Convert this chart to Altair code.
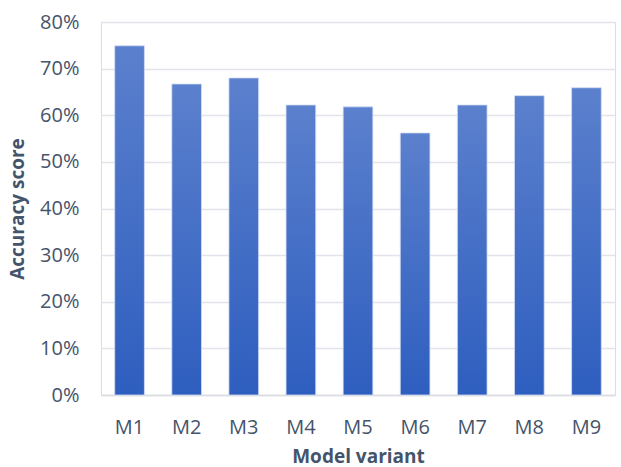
import altair as alt
import pandas as pd

models = ["M1", "M2", "M3", "M4", "M5", "M6", "M7", "M8", "M9"]
accuracy = [0.749, 0.667, 0.680, 0.622, 0.618, 0.562, 0.622, 0.642, 0.659]

df = pd.DataFrame({"model": models, "accuracy": accuracy})

FONT = "Open Sans"
TXT = "#44546A"

chart = (
    alt.Chart(df)
    .mark_bar(
        fill=alt.Gradient(
            gradient="linear",
            stops=[
                alt.GradientStop(color="#5B80CD", offset=0),
                alt.GradientStop(color="#2E5EBF", offset=1),
            ],
            x1=0, x2=0, y1=0, y2=1,
        ),
        stroke="#D3DDF2",
        strokeWidth=0.8,
    )
    .encode(
        x=alt.X(
            "model:N",
            sort=models,
            title="Model variant",
            scale=alt.Scale(paddingInner=0.48, paddingOuter=0.24),
            axis=alt.Axis(
                labelAngle=0,
                labelFontSize=20,
                labelColor=TXT,
                labelFont=FONT,
                labelPadding=22,
                titleFont=FONT,
                titleFontSize=19,
                titleFontWeight="bold",
                titleColor=TXT,
                titlePadding=10,
                ticks=False,
                domainColor="#D9DCE3",
                domainWidth=1.5,
            ),
        ),
        y=alt.Y(
            "accuracy:Q",
            title="Accuracy score",
            scale=alt.Scale(domain=[0, 0.8]),
            axis=alt.Axis(
                format=".0%",
                values=[0, 0.1, 0.2, 0.3, 0.4, 0.5, 0.6, 0.7, 0.8],
                labelFontSize=20,
                labelColor=TXT,
                labelFont=FONT,
                labelPadding=22,
                titleFont=FONT,
                titleFontSize=19,
                titleFontWeight="bold",
                titleColor=TXT,
                titlePadding=12,
                ticks=False,
                domain=False,
                gridColor="#E1E4EA",
                gridWidth=1.5,
            ),
        ),
    )
    .properties(
        width=514,
        height=373,
        autosize=alt.AutoSizeParams(type="none"),
        padding={"left": 101, "top": 22, "right": 6, "bottom": 72},
    )
    .configure_view(stroke=None)
    .configure(background="white")
)

chart.save("out.html", embed_options={"renderer": "svg", "actions": False})
